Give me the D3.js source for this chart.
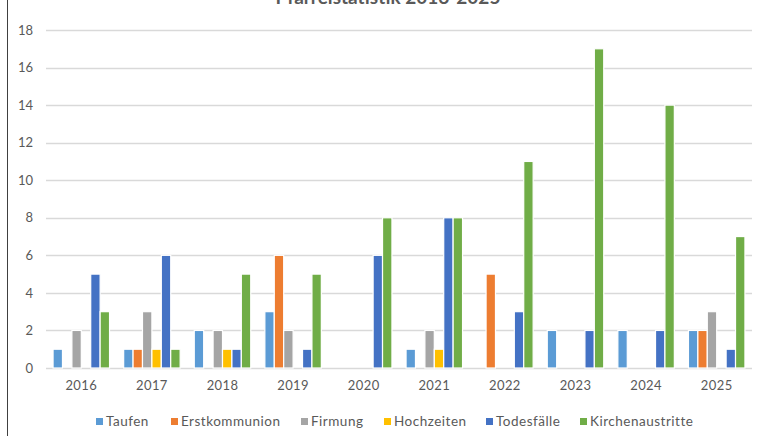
<!DOCTYPE html>
<html lang="de">
<head>
<meta charset="UTF-8">
<title>Pfarreistatistik 2016-2025</title>
<script src="https://d3js.org/d3.v7.min.js"></script>
<style>
  body { margin: 0; background: #fff; }
  svg { display: block; font-family: Lato, "Open Sans", sans-serif; }
</style>
</head>
<body>
<svg id="chart" width="759" height="436"></svg>
<script>
// data
var years = ["2016", "2017", "2018", "2019", "2020", "2021", "2022", "2023", "2024", "2025"];
var seriesNames = ["Taufen", "Erstkommunion", "Firmung", "Hochzeiten", "Todesfälle", "Kirchenaustritte"];
var taufen          = [1, 1, 2, 3, 0, 1, 0, 2, 2, 2];
var erstkommunion   = [0, 1, 0, 6, 0, 0, 5, 0, 0, 2];
var firmung         = [2, 3, 2, 2, 0, 2, 0, 0, 0, 3];
var hochzeiten      = [0, 1, 1, 0, 0, 1, 0, 0, 0, 0];
var todesfaelle     = [5, 6, 1, 1, 6, 8, 3, 2, 2, 1];
var kirchenaustritte = [3, 1, 5, 5, 8, 8, 11, 17, 14, 7];
var yTicks = [0, 2, 4, 6, 8, 10, 12, 14, 16, 18];
var colors = ["#5B9BD5", "#ED7D31", "#A5A5A5", "#FFC000", "#4472C4", "#70AD47"];

var values = [taufen, erstkommunion, firmung, hochzeiten, todesfaelle, kirchenaustritte];
var rows = years.map(function (y, i) {
  return { year: y, vals: values.map(function (s) { return s[i]; }) };
});

var svg = d3.select("#chart");
var margin = { left: 46, right: 7, top: 30, bottom: 68 };
var W = 759, H = 436;

// left frame line of the chart box
svg.append("line")
  .attr("x1", 7.5).attr("x2", 7.5).attr("y1", 0).attr("y2", H)
  .attr("stroke", "#404040").attr("stroke-width", 1);

// title (cut at the top like in the original)
svg.append("text")
  .attr("x", 388).attr("y", 4)
  .attr("text-anchor", "middle")
  .attr("font-size", 19).attr("font-weight", "bold")
  .attr("fill", "#595959")
  .text("Pfarreistatistik 2016-2025");

var x0 = d3.scaleBand()
  .domain(years)
  .range([margin.left, W - margin.right]);

var x1 = d3.scaleBand()
  .domain(d3.range(seriesNames.length))
  .range([0, x0.bandwidth()])
  .paddingOuter(0.75);

var y = d3.scaleLinear()
  .domain([0, 18])
  .range([H - margin.bottom, margin.top]);

// gridlines
svg.append("g")
  .selectAll("line")
  .data(yTicks)
  .join("line")
  .attr("x1", margin.left).attr("x2", W - margin.right)
  .attr("y1", function (d) { return Math.round(y(d)) + 0.5; })
  .attr("y2", function (d) { return Math.round(y(d)) + 0.5; })
  .attr("stroke", "#d9d9d9").attr("stroke-width", 1.3);

// y axis labels
var yAxis = d3.axisLeft(y).tickValues(yTicks).tickSize(0).tickPadding(13);
svg.append("g")
  .attr("transform", "translate(" + margin.left + ",0)")
  .call(yAxis)
  .call(function (g) { g.select(".domain").remove(); })
  .selectAll("text")
  .attr("font-size", 13).attr("fill", "#595959").attr("font-family", "Lato, sans-serif");

// x axis labels
var xAxis = d3.axisBottom(x0).tickSize(0).tickPadding(13);
svg.append("g")
  .attr("transform", "translate(0," + y(0) + ")")
  .call(xAxis)
  .call(function (g) { g.select(".domain").remove(); })
  .selectAll("text")
  .attr("font-size", 13).attr("fill", "#595959").attr("font-family", "Lato, sans-serif")
  .attr("letter-spacing", 0.4);

// bars
var groups = svg.append("g")
  .selectAll("g")
  .data(rows)
  .join("g")
  .attr("transform", function (d) { return "translate(" + x0(d.year) + ",0)"; });

groups.selectAll("rect")
  .data(function (d) { return d.vals.map(function (v, i) { return { i: i, v: v }; }); })
  .join("rect")
  .filter(function (d) { return d.v > 0; })
  .attr("x", function (d) { return x1(d.i); })
  .attr("y", function (d) { return y(d.v); })
  .attr("width", x1.bandwidth())
  .attr("height", function (d) { return y(0) - y(d.v); })
  .attr("fill", function (d) { return colors[d.i]; })
  .attr("stroke", "#fff").attr("stroke-width", 1.2);

// legend
var legendX = [96, 171, 301, 384, 486, 580];
var legend = svg.append("g")
  .selectAll("g")
  .data(seriesNames)
  .join("g")
  .attr("transform", function (d, i) { return "translate(" + legendX[i] + ",418)"; });

legend.append("rect")
  .attr("width", 7).attr("height", 7)
  .attr("fill", function (d, i) { return colors[i]; });

legend.append("text")
  .attr("x", 10).attr("y", 8)
  .attr("font-size", 13.5).attr("fill", "#595959")
  .attr("letter-spacing", 0.5)
  .text(function (d) { return d; });
</script>
</body>
</html>
